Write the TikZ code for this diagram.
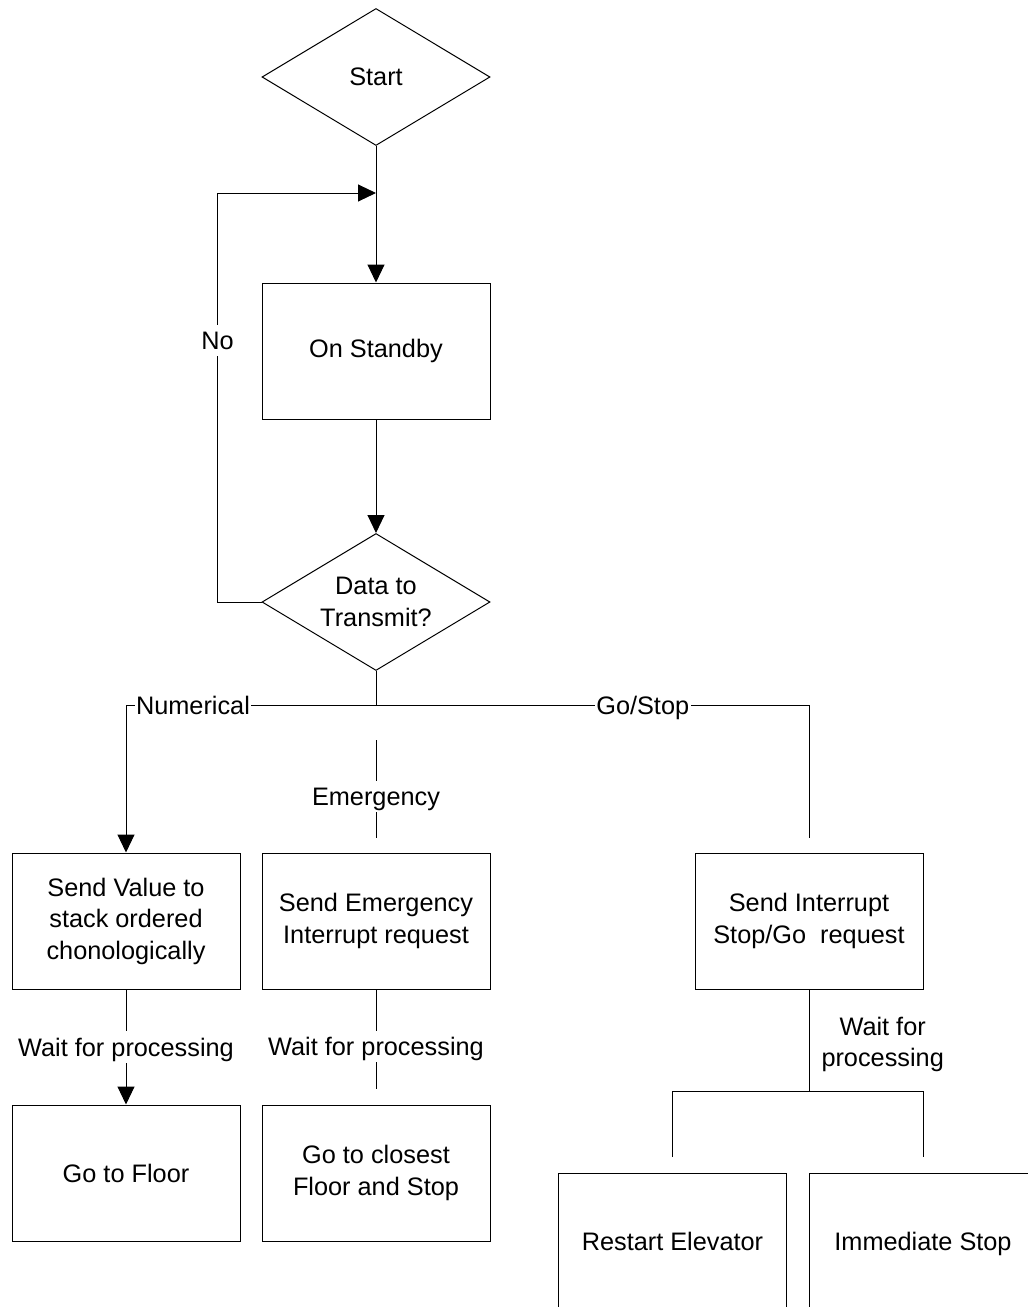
\documentclass[tikz,border=0pt]{standalone}
\usepackage{fontspec}
\setmainfont{Liberation Sans}
\usepackage{tikz}
\usetikzlibrary{shapes.geometric,arrows.meta,positioning,calc}

\begin{document}
\begin{tikzpicture}[x=1pt, y=-1pt,
    txt/.style={font=\fontsize{25.3pt}{31.5pt}\selectfont, align=center},
    box/.style={txt, rectangle, draw=black, line width=1pt,
                minimum width=228pt, minimum height=136pt, inner sep=0pt},
    choice/.style={txt, diamond, draw=black, line width=1pt, aspect=1.65,
                minimum width=228pt, minimum height=137pt, inner sep=0pt},
    lab/.style={txt, fill=white, inner xsep=1.5pt, inner ysep=0pt,
                text height=24.6pt, text depth=6.5pt},
    line/.style={line width=1pt, black},
    arr/.style={line, -{Triangle[length=18pt, width=17pt]}}
]
    \useasboundingbox (0,0) rectangle (1028,1307);
    \clip (0,0) rectangle (1028,1307);

    \node[choice] (start) at (376,77) {Start};
    \node[box] (standby) at (376,351) {On Standby};
    \node[choice] (ask) at (376,602) {Data to\\Transmit?};

    \node[box] (value) at (126,921) {Send Value to\\stack ordered\\chonologically};
    \node[box] (emerg) at (376,921) {Send Emergency\\Interrupt request};
    \node[box] (interrupt) at (809,921) {Send Interrupt\\Stop/Go\ \ request};

    \node[box] (floor) at (126,1173) {Go to Floor};
    \node[box] (closest) at (376,1173) {Go to closest\\Floor and Stop};
    \node[box] (restart) at (672.5,1241) {Restart Elevator};
    \node[box, text depth=0pt] (halt) at (923,1241) {Immediate Stop};

    \coordinate (entry) at (376,193);
    \coordinate (split) at (376,705);
    \coordinate (emtop) at (376,740);
    \coordinate (embot) at (376,838);
    \coordinate (goend) at (809,838);
    \coordinate (emwait) at (376,1089);
    \coordinate (fork) at (809,1091);
    \coordinate (rleg) at (672.5,1157);
    \coordinate (sleg) at (923,1157);

    \draw[arr] (start) -- (standby);
    \draw[arr] (standby) -- (ask);
    \draw[arr] (ask.west) -- ++(-44,0) |- node[lab, pos=0.32] {No} (entry);

    \draw[line] (ask) -- (split);
    \draw[arr] (split) -| node[lab, pos=0.366] {Numerical} (value);
    \draw[line] (split) -| node[lab, pos=0.308] {Go/Stop} (goend);
    \draw[line] (emtop) -- node[lab, pos=0.577] {Emergency} (embot);

    \draw[arr] (value) -- node[lab] {Wait for processing} (floor);
    \draw[line] (emerg) -- node[lab, pos=0.576] {Wait for processing} (emwait);
    \draw[line] (interrupt) -- node[txt, anchor=west, inner sep=0pt, xshift=12pt, pos=0.54] {Wait for\\processing} (fork);
    \draw[line] (rleg) |- (fork) -| (sleg);
\end{tikzpicture}
\end{document}
